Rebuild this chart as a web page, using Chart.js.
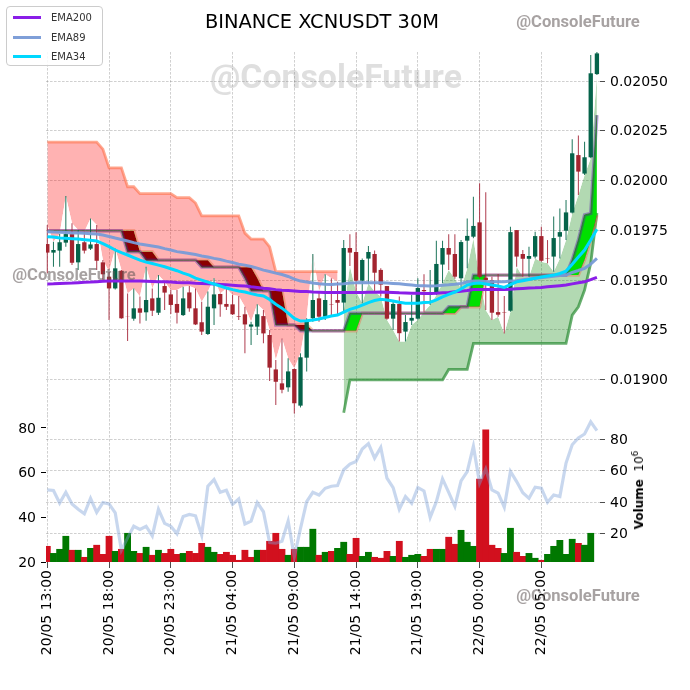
<!DOCTYPE html>
<html>
<head>
<meta charset="utf-8">
<title>BINANCE XCNUSDT 30M</title>
<script src="https://cdn.jsdelivr.net/npm/chart.js@4/dist/chart.umd.min.js"></script>
<style>
    html, body { margin: 0; padding: 0; background: #fff; }
    #page { position: relative; width: 690px; height: 690px; overflow: hidden; font-family: "DejaVu Sans", sans-serif; }
    canvas { position: absolute; left: 0; top: 0; }
    .txt { position: absolute; white-space: nowrap; }
    .mark { font-family: Roboto, sans-serif; font-weight: 700; transform: translate(-50%, -50%); }
    .small { font-size: 16.6px; color: rgba(95, 85, 85, 0.55); }
    #title { left: 322px; top: 21px; font-size: 19.4px; color: #000; transform: translate(-50%, -50%); }
    #legend { position: absolute; left: 6px; top: 6px; width: 95px; height: 58px; background: rgba(255,255,255,0.85); border: 1px solid #ccc; border-radius: 4px; z-index: 5; }
    #legend div { position: absolute; left: 6px; height: 2.5px; width: 28px; }
    #legend span { position: absolute; left: 44px; font-size: 10px; color: #333; transform: translateY(-50%); }
    #volLabel { left: 638px; top: 490px; font-size: 12px; transform: translate(-50%, -50%) rotate(-90deg); }
    #volLabel sup { font-size: 9px; }
</style>
</head>
<body>
<div id="page">
    <canvas id="mainChart" width="690" height="690"></canvas>
    <canvas id="volChart" width="690" height="690"></canvas>

    <div class="txt" id="title">BINANCE XCNUSDT 30M</div>
    <div class="txt mark" style="left:336px;top:76px;font-size:33.8px;color:rgba(120,120,120,0.24)">@ConsoleFuture</div>
    <div class="txt mark small" style="left:74px;top:274px">@ConsoleFuture</div>
    <div class="txt mark small" style="left:578px;top:21px">@ConsoleFuture</div>
    <div class="txt mark small" style="left:578px;top:595px">@ConsoleFuture</div>
    <div class="txt" id="volLabel"><b>Volume</b>&nbsp; 10<sup>6</sup></div>

    <div id="legend">
        <div style="top:9px;background:#8a1ee8"></div><span style="top:10px">EMA200</span>
        <div style="top:29px;background:#7f9fd8"></div><span style="top:30px">EMA89</span>
        <div style="top:48px;background:#00d8ff"></div><span style="top:49px">EMA34</span>
    </div>
</div>

<script>
    // prices are in millionths (19681 = 0.019681)
    const tickLabels = ["20/05 13:00", "20/05 18:00", "20/05 23:00", "21/05 04:00", "21/05 09:00", "21/05 14:00", "21/05 19:00", "22/05 00:00", "22/05 05:00"];
    const priceTicks = [19000, 19250, 19500, 19750, 20000, 20250, 20500];
    const volumeTicks = [20, 40, 60, 80];
    const leftTicks = [20, 40, 60, 80];

    const opens = [19681,19638,19648,19688,19731,19589,19690,19658,19681,19589,19517,19458,19547,19319,19306,19358,19338,19408,19336,19470,19428,19380,19324,19438,19358,19288,19229,19358,19430,19380,19378,19319,19328,19266,19266,19319,19224,19051,18981,18961,19053,18869,19110,19308,19408,19316,19378,19400,19387,19661,19641,19497,19608,19631,19551,19470,19306,19380,19241,19296,19306,19450,19425,19430,19578,19661,19631,19509,19698,19718,19790,19512,19500,19339,19338,19346,19751,19631,19607,19618,19721,19609,19618,19718,19748,19839,20128,20035,20117,20535];
    const closes = [19638,19651,19690,19731,19587,19681,19648,19679,19597,19529,19458,19559,19308,19318,19358,19336,19400,19346,19411,19437,19375,19336,19408,19358,19277,19241,19366,19428,19378,19366,19328,19316,19277,19277,19328,19232,19060,18989,18949,19041,18881,19112,19294,19400,19316,19400,19376,19386,19661,19638,19497,19601,19641,19537,19477,19306,19380,19233,19289,19310,19460,19444,19433,19581,19661,19628,19517,19691,19722,19772,19517,19500,19336,19326,19336,19741,19618,19607,19621,19721,19597,19607,19711,19741,19840,20137,20045,20117,20539,20639];
    const highs = [19777,19693,19731,19922,19785,19751,19743,19810,19777,19601,19542,19659,19551,19433,19458,19417,19567,19458,19525,19492,19450,19450,19467,19470,19458,19391,19442,19509,19433,19458,19425,19420,19366,19291,19378,19349,19249,19098,19207,19107,19056,19132,19308,19631,19442,19529,19509,19492,19701,19730,19740,19609,19671,19648,19559,19470,19400,19417,19325,19425,19509,19529,19551,19698,19698,19730,19730,19701,19810,19919,19986,19941,19517,19530,19420,19768,19751,19651,19668,19743,19768,19701,19819,19860,19902,20207,20226,20195,20631,20690];
    const lows = [19534,19567,19567,19668,19576,19551,19634,19651,19551,19500,19299,19453,19306,19194,19296,19282,19296,19319,19324,19349,19329,19282,19319,19341,19274,19224,19224,19274,19316,19349,19324,19299,19132,19174,19224,19182,18993,18872,18931,18939,18830,18860,19040,19291,19291,19299,19324,19324,19341,19571,19442,19383,19484,19442,19417,19300,19249,19191,19191,19274,19300,19341,19375,19425,19484,19551,19507,19459,19559,19710,19509,19349,19299,19316,19232,19341,19567,19517,19517,19609,19592,19584,19542,19609,19701,19835,19927,20028,20112,20530];

    const ema200 = [19480,19481,19483,19484,19485,19487,19489,19490,19492,19494,19495,19495,19495,19495,19495,19495,19494,19493,19492,19491,19490,19488,19487,19486,19484,19483,19481,19480,19478,19476,19474,19472,19470,19466,19463,19459,19456,19452,19449,19447,19445,19443,19442,19440,19439,19438,19437,19437,19437,19437,19438,19438,19439,19439,19440,19439,19438,19436,19435,19434,19434,19433,19433,19434,19436,19438,19441,19444,19448,19453,19453,19453,19453,19453,19453,19454,19456,19458,19460,19461,19463,19466,19469,19472,19475,19481,19487,19491,19502,19514];
    const ema89 = [19743,19741,19740,19739,19737,19736,19735,19733,19731,19726,19719,19711,19704,19696,19688,19681,19676,19671,19666,19658,19651,19643,19638,19633,19628,19621,19616,19609,19603,19595,19588,19580,19575,19568,19560,19550,19543,19535,19528,19518,19505,19495,19490,19485,19481,19479,19478,19480,19482,19485,19486,19488,19487,19487,19486,19485,19483,19481,19478,19475,19472,19471,19470,19471,19474,19476,19479,19483,19490,19495,19495,19493,19492,19491,19491,19495,19497,19502,19505,19509,19512,19515,19519,19523,19525,19538,19548,19559,19580,19609];
    const ema34 = [19718,19716,19711,19710,19708,19706,19703,19700,19696,19683,19668,19651,19638,19626,19613,19600,19590,19583,19575,19567,19557,19547,19535,19525,19510,19500,19490,19480,19470,19460,19452,19445,19440,19432,19425,19420,19402,19379,19359,19334,19307,19294,19296,19299,19304,19312,19319,19324,19339,19353,19362,19374,19387,19397,19403,19400,19395,19389,19384,19383,19384,19387,19389,19400,19415,19428,19440,19455,19475,19483,19485,19480,19475,19470,19463,19477,19491,19497,19503,19509,19515,19520,19525,19533,19545,19580,19616,19651,19701,19755];

    // the two step lines of the coloured ribbon
    const ribbonFast = [19748,19748,19748,19748,19748,19748,19748,19748,19748,19748,19748,19748,19748,19642,19642,19642,19600,19600,19600,19600,19600,19600,19600,19600,19600,19565,19565,19565,19565,19565,19565,19565,19510,19446,19446,19446,19446,19274,19274,19274,19274,19245,19245,19245,19245,19245,19245,19245,19245,19333,19333,19333,19333,19333,19333,19333,19333,19333,19333,19333,19333,19333,19333,19333,19333,19366,19366,19366,19366,19525,19525,19525,19525,19525,19525,19525,19525,19525,19525,19525,19525,19525,19525,19525,19525,19601,19701,19827,19835,20329];
    const ribbonSlow = [19748,19748,19748,19748,19748,19748,19748,19748,19748,19748,19748,19748,19748,19748,19748,19642,19642,19642,19600,19600,19600,19600,19600,19600,19600,19600,19600,19565,19565,19565,19565,19565,19565,19565,19510,19446,19446,19446,19446,19274,19274,19274,19274,19245,19245,19245,19245,19245,19245,19245,19245,19333,19333,19333,19333,19333,19333,19333,19333,19333,19333,19333,19333,19333,19333,19333,19333,19366,19366,19366,19366,19525,19525,19525,19525,19525,19525,19525,19525,19525,19525,19525,19525,19525,19525,19525,19525,19601,19701,19827];

    // outer stop lines, only defined on their own part of the chart
    const stopUpper = [20193,20193,20193,20193,20193,20193,20193,20193,20193,20158,20064,20064,20064,19969,19969,19934,19934,19934,19934,19934,19934,19914,19914,19914,19887,19823,19823,19823,19823,19823,19823,19823,19736,19706,19706,19706,19667,19542,19542,19542,19542,19542,19542,19542,19542,19542,19542,19542,null,null,null,null,null,null,null,null,null,null,null,null,null,null,null,null,null,null,null,null,null,null,null,null,null,null,null,null,null,null,null,null,null,null,null,null,null,null,null,null,null,null];
    const stopLower = [null,null,null,null,null,null,null,null,null,null,null,null,null,null,null,null,null,null,null,null,null,null,null,null,null,null,null,null,null,null,null,null,null,null,null,null,null,null,null,null,null,null,null,null,null,null,null,null,18833,18998,18998,18998,18998,18998,18998,18998,18998,18998,18998,18998,18998,18998,18998,18998,18998,19051,19051,19051,19051,19182,19182,19182,19182,19182,19182,19182,19182,19182,19182,19182,19182,19182,19182,19182,19182,19324,19366,19450,19585,19837];

    // volume in millions, one bar less than the candles
    const volume = [11.9,7.4,10,18.3,9.4,9.4,4.9,10.6,12.6,6.8,18.3,8.7,10,20.2,8.7,7.4,11.3,6.2,9.4,7.4,10,6.8,7.4,8.7,7.4,13.8,11.3,8.1,6.8,8.1,6.2,3,9.4,4.9,9.4,9.4,15.1,20.2,10,6.2,10,11.3,11.3,22.8,6.2,8.1,8.7,10.6,14.5,6.8,17,5.5,8.1,4.9,4.3,8.7,5.5,15.1,4.9,6.2,6.8,5.5,10,10,10,17.7,13.2,22.1,14.5,11.9,54.7,86,12.6,10.6,7.4,23.4,8.1,5.5,7.4,4.3,3,6.8,11.9,15.7,6.8,16.4,13.8,12.6,20.2];
    const volumeUpIdx = [1,2,3,5,7,11,13,14,16,18,22,26,27,34,39,41,42,43,45,47,48,51,52,56,58,59,60,63,64,67,68,69,74,75,78,79,81,82,83,84,85,87,88];
    // light line on the left axis
    const leftLine = [52.3,52,46.4,51.2,46,43.6,41.6,48.5,42.2,46.6,46,42,25.3,30.8,36,34.6,36,31.7,43.6,37.3,36,32.6,40.4,41.3,40.7,32,53.9,56.9,51.2,52.1,45.8,48.2,37,38.3,46.6,42.5,28.7,28.4,29.3,38.3,22.3,35,47,51.2,50,53,53.9,54.2,61.3,63.8,65,70.6,73,66.5,71.3,57.5,53.3,43.6,49.3,46.3,53.3,51.8,40,47,57.2,51.2,44.9,56.3,60.5,71.8,55.3,61.7,52.3,50.8,44.5,60.5,56,51,48.5,53.5,53,46.7,50,49.3,64.3,72.5,75.5,77.3,82.7,78.8];

    const GRID = "rgba(120,120,120,0.5)";
    const GRID_DASH = [2.6, 1.4];
    const xMin = -0.21, xMax = 89.5;

    const pts = arr => arr.map((y, x) => ({ x: x, y: y }));
    // tick labels get clipped to the axis box, so the boxes keep a fixed real size
    const fixWidth = w => scale => { scale.width = w; };
    const fixHeight = h => scale => { scale.height = h; };
    const setTicks = list => scale => { scale.ticks = list.map(v => ({ value: v })); };

    function bareLine(data, extra) {
        return Object.assign({ type: "line", data: pts(data), pointRadius: 0, tension: 0, borderWidth: 0, spanGaps: false, fill: false }, extra);
    }

    const candleColor = (ctx, up, down) => {
        const i = ctx.dataIndex;
        return closes[i] >= opens[i] ? up : down;
    };

    // ==============================
    // Painel de preço
    // ==============================
    new Chart(document.getElementById("mainChart"), {
        data: {
            datasets: [
                bareLine(highs, { order: 20 }),                                   // 0
                bareLine(lows, { order: 20 }),                                    // 1
                bareLine(ribbonSlow, { order: 9, borderWidth: 3.4, borderColor: "rgba(235,110,70,0.42)" }), // 2
                bareLine(ribbonFast, {                                            // 3
                    order: 8, borderWidth: 3.4, borderColor: "rgba(80,20,170,0.4)",
                    fill: { target: 2, above: "#00e000", below: "#8b0000" }
                }),
                bareLine(ribbonFast, { order: 7, borderWidth: 1, borderColor: "rgba(40,110,30,0.7)" }),
                bareLine(stopUpper, {
                    order: 12, borderWidth: 2.8, borderColor: "rgba(255,110,70,0.6)",
                    fill: { target: 0, above: "rgba(255,0,0,0.3)", below: "rgba(0,0,0,0)" }
                }),
                bareLine(stopLower, {
                    order: 12, borderWidth: 2.8, borderColor: "rgba(40,140,50,0.7)",
                    fill: { target: 1, above: "rgba(0,0,0,0)", below: "rgba(0,128,0,0.3)" }
                }),
                {
                    type: "bar", order: 6, grouped: false, barPercentage: 0.17, categoryPercentage: 1,
                    data: highs.map((h, i) => ({ x: i, y: [lows[i], h] })),
                    backgroundColor: ctx => candleColor(ctx, "rgba(0,100,70,0.85)", "rgba(165,35,55,0.85)")
                },
                {
                    type: "bar", order: 5, grouped: false, barPercentage: 0.7, categoryPercentage: 1,
                    data: opens.map((o, i) => ({ x: i, y: [o, closes[i]] })),
                    backgroundColor: ctx => candleColor(ctx, "#05634a", "#a3242f")
                },
                bareLine(ema200, { order: 3, borderWidth: 3, borderColor: "#8a1ee8" }),
                bareLine(ema89, { order: 2, borderWidth: 3, borderColor: "rgba(120,155,215,0.95)" }),
                bareLine(ema34, { order: 1, borderWidth: 3, borderColor: "#00d8ff" })
            ]
        },
        options: {
            responsive: false,
            animation: false,
            layout: { padding: { left: 46, right: 0, top: 52, bottom: 275 } },
            plugins: { legend: { display: false }, tooltip: { enabled: false } },
            scales: {
                x: {
                    type: "linear", min: xMin, max: xMax, offset: false,
                    afterBuildTicks: setTicks(tickLabels.map((l, i) => i * 10)),
                    afterFit: fixHeight(0),
                    border: { display: false, dash: GRID_DASH },
                    grid: { offset: false, color: GRID, lineWidth: 0.7, drawTicks: false },
                    ticks: { display: false }
                },
                y: {
                    position: "right", min: 18822, max: 20646,
                    afterBuildTicks: setTicks(priceTicks),
                    afterFit: fixWidth(90),
                    border: { display: false, dash: GRID_DASH },
                    grid: { color: GRID, lineWidth: 0.7, tickLength: 5, tickColor: "#000", tickBorderDash: [] },
                    ticks: {
                        color: "#000", padding: 5, labelOffset: 1, font: { family: "DejaVu Sans", size: 14 },
                        callback: v => (v / 1e6).toFixed(5)
                    }
                }
            }
        }
    });

    // ==============================
    // Painel de volume
    // ==============================
    new Chart(document.getElementById("volChart"), {
        data: {
            datasets: [
                {
                    type: "bar", yAxisID: "y1", order: 2, grouped: false, barPercentage: 1, categoryPercentage: 1,
                    data: pts(volume),
                    backgroundColor: ctx => volumeUpIdx.includes(ctx.dataIndex) ? "#007800" : "#d2101e"
                },
                bareLine(leftLine, { yAxisID: "y", order: 1, borderWidth: 3.2, borderColor: "rgba(125,160,215,0.42)" })
            ]
        },
        options: {
            responsive: false,
            animation: false,
            layout: { padding: { left: 0, right: 0, top: 415, bottom: 0 } },
            plugins: { legend: { display: false }, tooltip: { enabled: false } },
            scales: {
                x: {
                    type: "linear", min: xMin, max: xMax, offset: false,
                    afterBuildTicks: setTicks(tickLabels.map((l, i) => i * 10)),
                    afterFit: fixHeight(128),
                    border: { display: false, dash: GRID_DASH },
                    grid: { offset: false, color: GRID, lineWidth: 0.7, tickLength: 6, tickColor: "#000", tickBorderDash: [] },
                    ticks: {
                        color: "#000", padding: 2, autoSkip: false, minRotation: 90, maxRotation: 90,
                        font: { family: "DejaVu Sans", size: 14 },
                        callback: v => tickLabels[v / 10]
                    }
                },
                y: {
                    position: "left", min: 20, max: 85.8,
                    afterBuildTicks: setTicks(leftTicks),
                    afterFit: fixWidth(46),
                    border: { display: false },
                    grid: { drawOnChartArea: false, tickLength: 5, tickColor: "#000" },
                    ticks: { color: "#000", padding: 5, labelOffset: 1, font: { family: "DejaVu Sans", size: 14 } }
                },
                y1: {
                    position: "right", min: 1.9, max: 95.5,
                    afterBuildTicks: setTicks(volumeTicks),
                    afterFit: fixWidth(90),
                    border: { display: false, dash: GRID_DASH },
                    grid: { color: GRID, lineWidth: 0.7, tickLength: 5, tickColor: "#000", tickBorderDash: [] },
                    ticks: { color: "#000", padding: 5, labelOffset: 1, font: { family: "DejaVu Sans", size: 14 } }
                }
            }
        }
    });
</script>
</body>
</html>
